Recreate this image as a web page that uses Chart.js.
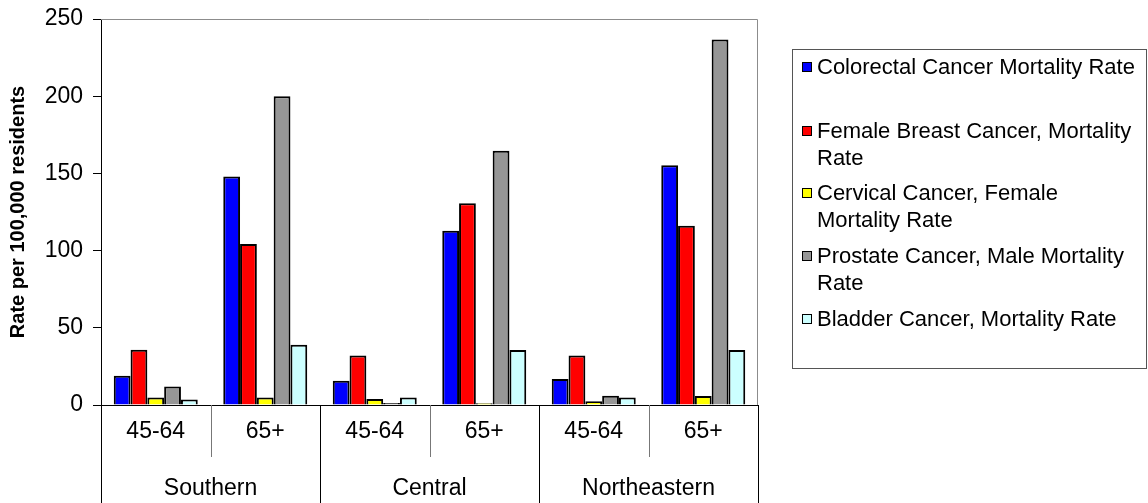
<!DOCTYPE html>
<html>
<head>
<meta charset="utf-8">
<script src="https://cdn.jsdelivr.net/npm/chart.js@4/dist/chart.umd.min.js"></script>
<style>
html, body { margin: 0; padding: 0; background: #fff; }
#wrap { position: relative; width: 1148px; height: 503px; }
#legend { position: absolute; left: 792px; top: 49px; width: 355px; height: 320px; border: 1px solid #555; box-sizing: border-box;
  font-family: "Liberation Sans", Arial, sans-serif; font-size: 22px; color: #000; }
.item { position: absolute; left: 24px; width: 322px; line-height: 27px; }
.sw { position: absolute; left: -15px; top: 9px; width: 8px; height: 8px; border: 1px solid #000; }
</style>
</head>
<body>
<div id="wrap">
  <canvas id="chart" width="1148" height="503"></canvas>
  <div id="legend"></div>
</div>
<script>
const categories = ['45-64', '65+', '45-64', '65+', '45-64', '65+'];
const regions = ['Southern', 'Central', 'Northeastern'];
const yTicks = [0, 50, 100, 150, 200, 250];

const seriesNames = [
  'Colorectal Cancer Mortality Rate',
  'Female Breast Cancer, Mortality Rate',
  'Cervical Cancer, Female Mortality Rate',
  'Prostate Cancer, Male Mortality Rate',
  'Bladder Cancer, Mortality Rate'
];
const colorectal = [19, 148, 15.7, 112.9, 16.8, 155.2];
const breast = [35.8, 104.3, 32.1, 130.6, 32.1, 116.1];
const cervical = [4.9, 4.9, 3.9, 1.2, 2.4, 5.8];
const prostate = [12, 200, 1.3, 164.7, 6, 236.8];
const bladder = [3.6, 39, 4.9, 35.6, 4.9, 35.6];

const colors = ['#0000FF', '#FF0000', '#FFFF00', '#969696', '#CCFFFF'];
const seriesValues = [colorectal, breast, cervical, prostate, bladder];

const ctx = document.getElementById('chart').getContext('2d');
const font = '"Liberation Sans", Arial, sans-serif';

// group labels and the boxed lines under the x axis
const axisBoxes = {
  id: 'axisBoxes',
  afterDraw(chart) {
    const c = chart.ctx;
    const a = chart.chartArea;
    const x = chart.scales.x;
    const half = (x.getPixelForValue(1) - x.getPixelForValue(0)) / 2;
    c.save();
    c.lineWidth = 1;
    c.strokeStyle = '#8c8c8c';
    c.beginPath();
    c.moveTo(a.left, Math.round(a.top) + 0.5);
    c.lineTo(Math.round(a.right) - 0.5, Math.round(a.top) + 0.5);
    c.lineTo(Math.round(a.right) - 0.5, a.bottom);
    c.stroke();

    for (let i = 0; i <= categories.length; i++) {
      const px = Math.round(x.getPixelForValue(i) - half) + 0.5;
      const outer = i % 2 === 0;
      c.strokeStyle = outer ? '#000' : '#777';
      c.beginPath();
      c.moveTo(px, a.bottom);
      c.lineTo(px, outer ? chart.height : a.bottom + 52);
      c.stroke();
    }

    c.fillStyle = '#000';
    c.font = '23px ' + font;
    c.textAlign = 'center';
    c.textBaseline = 'middle';
    categories.forEach((lab, i) => c.fillText(lab, x.getPixelForValue(i), a.bottom + 27));
    regions.forEach((r, g) => {
      const cx = (x.getPixelForValue(2 * g) + x.getPixelForValue(2 * g + 1)) / 2;
      c.fillText(r, cx, a.bottom + 84);
    });
    c.restore();
  }
};

new Chart(ctx, {
  type: 'bar',
  data: {
    labels: categories,
    datasets: seriesNames.map((name, i) => ({
      label: name,
      data: seriesValues[i],
      backgroundColor: colors[i],
      borderColor: '#000',
      borderWidth: 2,
      borderSkipped: 'bottom',
      categoryPercentage: 0.767,
      barPercentage: 1.0
    }))
  },
  options: {
    responsive: false,
    animation: false,
    layout: { padding: { top: 19, right: 390, left: 0, bottom: 0 } },
    plugins: {
      legend: { display: false },
      tooltip: { enabled: false }
    },
    scales: {
      x: {
        grid: { display: false },
        ticks: { display: false },
        border: { color: '#000', width: 1 },
        afterFit: s => { s.height = 98; s.paddingLeft = 0; s.paddingRight = 0; }
      },
      y: {
        min: 0,
        max: 250,
        afterBuildTicks: s => { s.ticks = yTicks.map(v => ({ value: v })); },
        ticks: { color: '#000', font: { family: font, size: 23 }, padding: 10 },
        grid: { drawOnChartArea: false, tickLength: 8, color: '#000' },
        border: { color: '#000', width: 1 },
        title: {
          display: true,
          text: 'Rate per 100,000 residents',
          color: '#000',
          font: { family: font, size: 20, weight: 'bold' },
          padding: { top: 6, bottom: 0 }
        },
        afterFit: s => { s.width = 101; s.paddingTop = 0; s.paddingBottom = 0; }
      }
    }
  },
  plugins: [axisBoxes]
});

// legend as html text in a box
const legendTops = [3, 67, 129, 192, 255];
const legend = document.getElementById('legend');
seriesNames.forEach((name, i) => {
  const item = document.createElement('div');
  item.className = 'item';
  item.style.top = legendTops[i] + 'px';
  const sw = document.createElement('span');
  sw.className = 'sw';
  sw.style.background = colors[i];
  item.appendChild(sw);
  item.appendChild(document.createTextNode(name));
  legend.appendChild(item);
});
</script>
</body>
</html>
